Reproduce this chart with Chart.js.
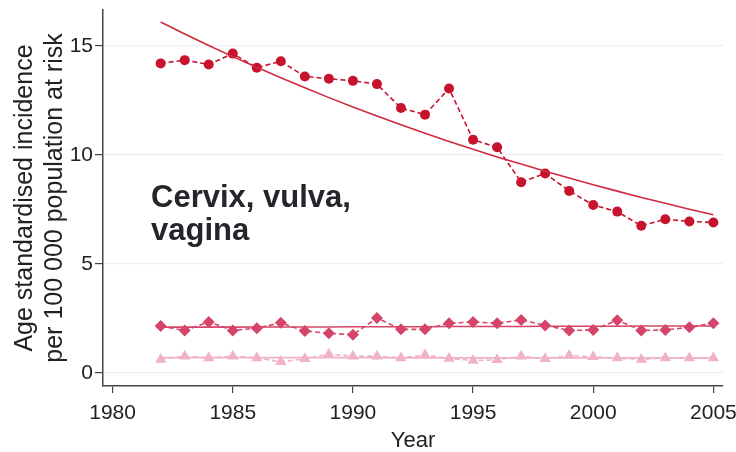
<!DOCTYPE html>
<html>
<head>
<meta charset="utf-8">
<script src="https://cdn.jsdelivr.net/npm/chart.js@4/dist/chart.umd.min.js"></script>
<style>
  html, body { margin: 0; padding: 0; background: #ffffff; }
  #wrap { width: 736px; height: 452px; position: relative; }
</style>
</head>
<body>
<div id="wrap"><canvas id="c" width="736" height="452"></canvas></div>
<script>
// ---- Data ----
const years = [1982,1983,1984,1985,1986,1987,1988,1989,1990,1991,1992,1993,
               1994,1995,1996,1997,1998,1999,2000,2001,2002,2003,2004,2005];

// Circles (observed, dashed)
const cervixObserved = [14.2,14.35,14.15,14.65,14.0,14.3,13.6,13.5,13.4,13.25,12.15,11.85,
                        13.05,10.7,10.35,8.75,9.15,8.35,7.7,7.4,6.75,7.05,6.95,6.9];
// Circles trend (solid curve)
const cervixTrend = [16.10,15.55,15.02,14.51,14.02,13.54,13.08,12.63,12.20,11.79,11.39,11.00,
                     10.62,10.26,9.91,9.58,9.25,8.94,8.63,8.34,8.05,7.78,7.51,7.26];

// Diamonds (observed, dashed)
const vulvaObserved = [2.15,1.95,2.34,1.95,2.05,2.3,1.92,1.82,1.75,2.52,2.0,2.0,
                       2.28,2.34,2.28,2.43,2.18,1.95,1.97,2.42,1.95,1.97,2.09,2.28];
// Diamonds trend
const vulvaTrend = [2.10,2.10,2.10,2.10,2.11,2.11,2.11,2.11,2.12,2.12,2.12,2.12,
                    2.13,2.13,2.13,2.13,2.14,2.14,2.14,2.14,2.15,2.15,2.15,2.15];

// Triangles (observed, dashed)
const vaginaObserved = [0.62,0.77,0.69,0.77,0.69,0.51,0.65,0.86,0.77,0.77,0.69,0.82,
                        0.66,0.57,0.6,0.77,0.65,0.8,0.74,0.68,0.62,0.69,0.69,0.69];
// Triangles trend
const vaginaTrend = [0.70,0.70,0.70,0.70,0.70,0.70,0.70,0.70,0.70,0.70,0.69,0.69,
                     0.69,0.69,0.69,0.69,0.69,0.69,0.69,0.69,0.69,0.69,0.68,0.68];

const xTicks = [1980,1985,1990,1995,2000,2005];
const yTicks = [0,5,10,15];
const xTitle = "Year";
const yTitle = ["Age standardised incidence", "per 100 000 population at risk"];
const annotationLines = ["Cervix, vulva,", "vagina"];

// ---- Build chart ----
const pts = arr => years.map((yr, i) => ({ x: yr, y: arr[i] }));
const FONT = "'Liberation Sans', Arial, Helvetica, sans-serif";

const C_RED = '#c8132f';
const C_RED_TREND = '#cf2a40';
const C_MID = '#d5456a';
const C_LIGHT = '#f0b3c3';

const annotationPlugin = {
  id: 'cornerLabel',
  afterDatasetsDraw(chart) {
    const { ctx, scales } = chart;
    const px = scales.x.getPixelForValue(1981.6);
    const py = scales.y.getPixelForValue(7.6);
    ctx.save();
    ctx.font = "bold 31px " + FONT;
    ctx.fillStyle = '#25252b';
    ctx.textAlign = 'left';
    ctx.textBaseline = 'alphabetic';
    annotationLines.forEach((t, i) => ctx.fillText(t, px, py + i * 33));
    ctx.restore();
  }
};

new Chart(document.getElementById('c'), {
  type: 'line',
  data: {
    datasets: [
      { data: pts(cervixTrend), borderColor: C_RED_TREND, borderWidth: 1.6, pointRadius: 0, fill: false, tension: 0 },
      { data: pts(cervixObserved), borderColor: C_RED, backgroundColor: C_RED, borderWidth: 1.6,
        borderDash: [5, 3], pointStyle: 'circle', pointRadius: 5, pointBorderWidth: 0, fill: false, tension: 0 },
      { data: pts(vulvaTrend), borderColor: C_MID, borderWidth: 1.6, pointRadius: 0, fill: false },
      { data: pts(vulvaObserved), borderColor: C_MID, backgroundColor: C_MID, borderWidth: 1.6,
        borderDash: [5, 3], pointStyle: 'rectRot', pointRadius: 6, pointBorderWidth: 0, fill: false },
      { data: pts(vaginaTrend), borderColor: C_LIGHT, borderWidth: 1.6, pointRadius: 0, fill: false },
      { data: pts(vaginaObserved), borderColor: C_LIGHT, backgroundColor: C_LIGHT, borderWidth: 1.6,
        borderDash: [5, 3], pointStyle: 'triangle', pointRadius: 6.5, pointBorderWidth: 0, fill: false }
    ]
  },
  options: {
    responsive: false,
    animation: false,
    devicePixelRatio: 1,
    layout: { padding: { top: 10, right: 13, left: 0, bottom: 0 } },
    plugins: { legend: { display: false }, tooltip: { enabled: false } },
    scales: {
      x: {
        type: 'linear',
        min: 1979.6, max: 2005.4,
        afterBuildTicks: s => { s.ticks = xTicks.map(v => ({ value: v })); },
        afterFit: s => { s.height = 66; s.paddingLeft = 0; s.paddingRight = 0; },
        grid: { drawOnChartArea: false, color: '#444', tickLength: 7, lineWidth: 1.2 },
        border: { display: true, color: '#444', width: 1.5 },
        ticks: { color: '#222', font: { family: FONT, size: 21 }, padding: 8, maxRotation: 0,
                 callback: v => String(v) },
        title: { display: true, text: xTitle, color: '#222', font: { family: FONT, size: 22, lineHeight: 1.0 },
                 padding: { top: 0, bottom: 0 } }
      },
      y: {
        type: 'linear',
        min: -0.6, max: 16.65,
        afterBuildTicks: s => { s.ticks = yTicks.map(v => ({ value: v })); },
        afterFit: s => { s.width = 103; s.paddingTop = 0; s.paddingBottom = 0; },
        grid: { color: '#e6f0f5', lineWidth: 1.2, tickColor: '#444', tickLength: 8 },
        border: { display: true, color: '#444', width: 1.5 },
        ticks: { color: '#222', font: { family: FONT, size: 21 }, padding: 2, callback: v => String(v) },
        title: { display: true, text: yTitle, color: '#222',
                 font: { family: FONT, size: 25, lineHeight: 1.2 }, padding: { top: 10, bottom: 0 } }
      }
    }
  },
  plugins: [annotationPlugin]
});
</script>
</body>
</html>
